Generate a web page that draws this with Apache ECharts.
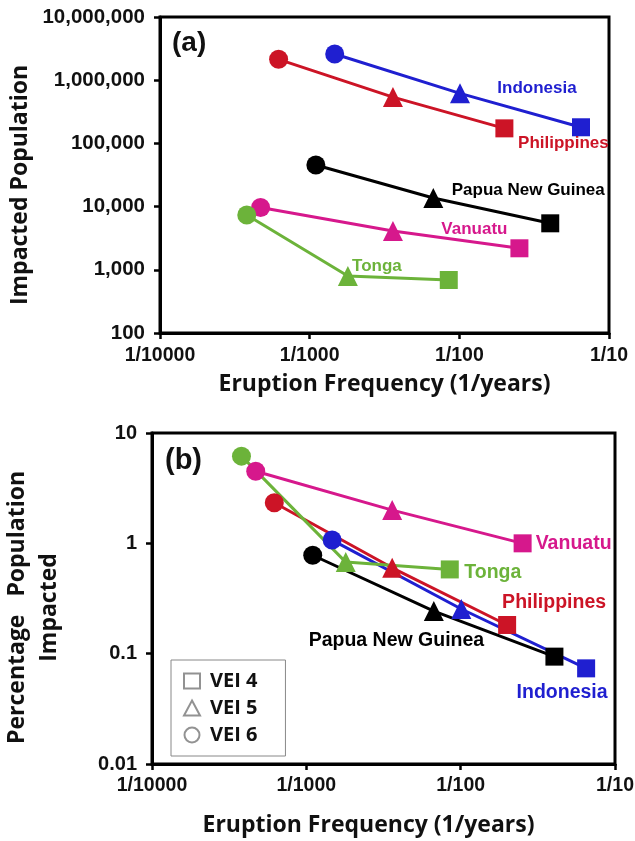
<!DOCTYPE html>
<html>
<head>
<meta charset="utf-8">
<title>Impacted population vs eruption frequency</title>
<script src="https://cdn.jsdelivr.net/npm/echarts@6/dist/echarts.min.js"></script>
</head>
<body style="margin:0;background:#fff;">
<div id="main" style="width:635px;height:841px;"></div>
<script type="text/javascript">
    // points are ordered VEI 6, VEI 5, VEI 4 (low to high frequency)
    var countries = ['Indonesia', 'Philippines', 'Papua New Guinea', 'Vanuatu', 'Tonga'];
    var veiNames = ['VEI 4', 'VEI 5', 'VEI 6'];

    // eruption frequency (1/years)
    var freqIndonesia = [0.00147, 0.0101, 0.065];
    var freqPhilippines = [0.00062, 0.0036, 0.020];
    var freqPNG = [0.0011, 0.0067, 0.0405];
    var freqVanuatu = [0.00047, 0.0036, 0.0252];
    var freqTonga = [0.00038, 0.0018, 0.0085];

    // (a) impacted population
    var popIndonesia = [2600000, 620000, 180000];
    var popPhilippines = [2140000, 540000, 173000];
    var popPNG = [45500, 13700, 5440];
    var popVanuatu = [9700, 4100, 2190];
    var popTonga = [7370, 800, 690];

    // (b) percentage of population impacted
    var pctIndonesia = [1.07, 0.254, 0.0736];
    var pctPhilippines = [2.33, 0.60, 0.182];
    var pctPNG = [0.78, 0.243, 0.094];
    var pctVanuatu = [4.5, 2.0, 1.0];
    var pctTonga = [6.17, 0.676, 0.58];

    var xTickLabels = ['1/10000', '1/1000', '1/100', '1/10'];
    var yTickLabelsA = ['100', '1,000', '10,000', '100,000', '1,000,000', '10,000,000'];
    var yTickLabelsB = ['0.01', '0.1', '1', '10'];

    var colors = ['#1f1fd0', '#cc1426', '#000000', '#d6188c', '#6cb33a'];
    var symbols = ['circle', 'triangle', 'rect'];
    var symbolSizes = [19, 20, 18];

    var tickFont = 'Liberation Sans';
    var titleFont = 'Open Sans';

    // where each country's name sits: which point, and offset from it
    var labelsA = [
        {at: 2, offset: [-44, -39]},
        {at: 2, offset: [59, 15]},
        {at: 2, offset: [-22, -33]},
        {at: 2, offset: [-45, -19]},
        {at: 1, offset: [29, -10]}
    ];
    var labelsB = [
        {at: 2, offset: [-24, 24]},
        {at: 2, offset: [47, -22]},
        {at: 2, offset: [-158, -16]},
        {at: 2, offset: [51, 0]},
        {at: 2, offset: [43, 3]}
    ];

    function lg(v) {
        return Math.round(Math.log(v) / Math.LN10);
    }

    function makeSeries(idx, freq, vals, grid, lab, fontSize) {
        var color = colors[idx];
        var name = countries[idx];
        return {
            type: 'line',
            name: name,
            xAxisIndex: grid,
            yAxisIndex: grid,
            data: freq.map(function (f, i) {
                var item = {
                    value: [f, vals[i]],
                    symbol: symbols[i],
                    symbolSize: symbolSizes[i]
                };
                if (i === lab.at) {
                    item.label = {
                        show: true,
                        position: 'inside',
                        offset: lab.offset,
                        formatter: name,
                        color: color,
                        fontFamily: tickFont,
                        fontWeight: 'bold',
                        fontSize: fontSize
                    };
                }
                return item;
            }),
            lineStyle: {color: color, width: 3},
            itemStyle: {color: color, opacity: 1},
            showAllSymbol: true,
            animation: false,
            emphasis: {disabled: true}
        };
    }

    function xAxis(grid, nameGap, margin, namePad) {
        return {
            type: 'log',
            logBase: 10,
            gridIndex: grid,
            min: 0.0001,
            max: 0.1,
            name: 'Eruption Frequency (1/years)',
            nameLocation: 'middle',
            nameGap: nameGap,
            nameTextStyle: {fontFamily: titleFont, fontWeight: 'bold', fontSize: 23, color: '#111', padding: namePad},
            axisLine: {lineStyle: {color: '#000', width: 3}},
            axisTick: {length: 6, lineStyle: {color: '#000', width: 2.5}},
            axisLabel: {
                margin: margin,
                fontFamily: tickFont,
                fontWeight: 'bold',
                fontSize: 19.5,
                color: '#111',
                formatter: function (v) { return xTickLabels[lg(v) + 4]; }
            },
            splitLine: {show: false},
            minorTick: {show: false}
        };
    }

    var myChart = echarts.init(document.getElementById('main'), null, {renderer: 'canvas'});

    var series = [];
    var pairsA = [[freqIndonesia, popIndonesia], [freqPhilippines, popPhilippines], [freqPNG, popPNG], [freqVanuatu, popVanuatu], [freqTonga, popTonga]];
    var pairsB = [[freqIndonesia, pctIndonesia], [freqPhilippines, pctPhilippines], [freqPNG, pctPNG], [freqVanuatu, pctVanuatu], [freqTonga, pctTonga]];
    pairsA.forEach(function (p, i) { series.push(makeSeries(i, p[0], p[1], 0, labelsA[i], 17)); });
    pairsB.forEach(function (p, i) { series.push(makeSeries(i, p[0], p[1], 1, labelsB[i], 19.5)); });

    // empty series that only feed the VEI legend
    var legendIcons = ['rect', 'triangle', 'circle'];
    veiNames.forEach(function (n, i) {
        series.push({
            type: 'scatter', name: n, xAxisIndex: 1, yAxisIndex: 1, data: [],
            symbol: legendIcons[i],
            itemStyle: {color: '#fff', borderColor: '#777', borderWidth: 1.3}
        });
    });

    var option = {
        backgroundColor: '#fff',
        animation: false,
        title: [
            {text: '(a)', left: 167, top: 24, textStyle: {fontFamily: tickFont, fontWeight: 'bold', fontSize: 28, color: '#111'}},
            {text: '(b)', left: 160, top: 441, textStyle: {fontFamily: tickFont, fontWeight: 'bold', fontSize: 29, color: '#111'}}
        ],
        legend: {
            data: veiNames.map(function (n, i) { return {name: n, icon: legendIcons[i]}; }),
            orient: 'vertical',
            left: 171,
            top: 660,
            itemWidth: 16,
            itemHeight: 15,
            itemGap: 7,
            padding: [11, 28, 11, 12],
            borderColor: '#888',
            borderWidth: 1,
            backgroundColor: '#fff',
            selectedMode: false,
            textStyle: {fontFamily: titleFont, fontWeight: 'bold', fontSize: 20, color: '#111', padding: [0, 0, 0, 5]}
        },
        grid: [
            {left: 160, top: 17, width: 449, height: 316, show: true, borderColor: '#000', borderWidth: 3,
                containLabel: false, outerBoundsMode: 'none'},
            {left: 152, top: 433, width: 463, height: 331, show: true, borderColor: '#000', borderWidth: 3,
                containLabel: false, outerBoundsMode: 'none'}
        ],
        xAxis: [xAxis(0, 40, 13, [0, 0, 0, 0]), xAxis(1, 50, 12, [0, 30, 0, 0])],
        yAxis: [
            {
                type: 'log', logBase: 10, gridIndex: 0, min: 100, max: 10000000,
                name: 'Impacted Population',
                nameLocation: 'middle',
                nameGap: 128,
                nameTextStyle: {fontFamily: titleFont, fontWeight: 'bold', fontSize: 23, color: '#111', padding: [0, 20, 0, 0]},
                axisLine: {lineStyle: {color: '#000', width: 3}},
                axisTick: {length: 6, lineStyle: {color: '#000', width: 2.5}},
                axisLabel: {
                    margin: 15, fontFamily: tickFont, fontWeight: 'bold', fontSize: 20.5, color: '#111',
                    formatter: function (v) { return yTickLabelsA[lg(v) - 2]; }
                },
                splitLine: {show: false}
            },
            {
                type: 'log', logBase: 10, gridIndex: 1, min: 0.01, max: 10,
                name: 'Percentage   Population\nImpacted',
                nameLocation: 'middle',
                nameGap: 87,
                nameTextStyle: {fontFamily: titleFont, fontWeight: 'bold', fontSize: 23, color: '#111', lineHeight: 32, padding: [0, 18, 0, 0]},
                axisLine: {lineStyle: {color: '#000', width: 3}},
                axisTick: {length: 6, lineStyle: {color: '#000', width: 2.5}},
                axisLabel: {
                    margin: 15, fontFamily: tickFont, fontWeight: 'bold', fontSize: 20, color: '#111',
                    formatter: function (v) { return yTickLabelsB[lg(v) + 2]; }
                },
                splitLine: {show: false}
            }
        ],
        series: series
    };

    myChart.setOption(option);
</script>
</body>
</html>
